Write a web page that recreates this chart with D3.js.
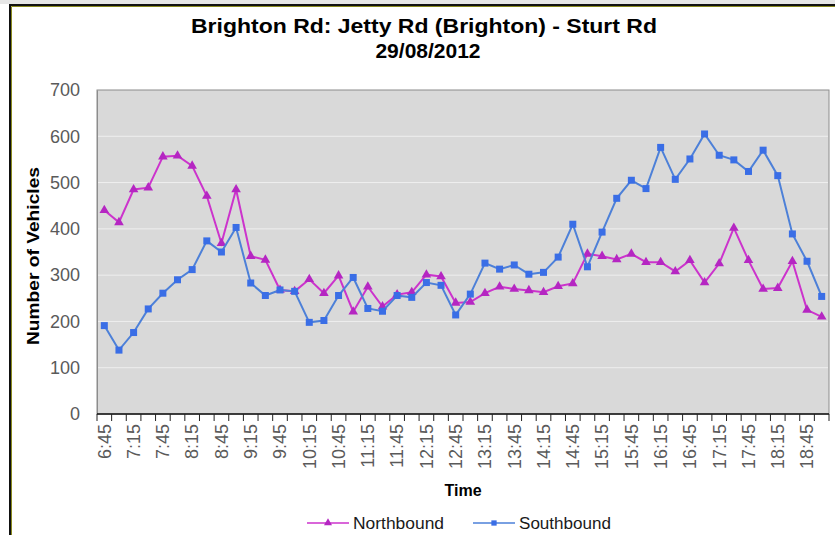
<!DOCTYPE html>
<html>
<head>
<meta charset="utf-8">
<script src="https://cdn.jsdelivr.net/npm/d3@7"></script>
<style>
  body { margin: 0; background: #fff; }
  text { font-family: "Liberation Sans", Arial, sans-serif; }
</style>
</head>
<body>
<div class="d3-container"></div>
<script>
const times = ["6:45","7:00","7:15","7:30","7:45","8:00","8:15","8:30","8:45","9:00",
  "9:15","9:30","9:45","10:00","10:15","10:30","10:45","11:00","11:15","11:30",
  "11:45","12:00","12:15","12:30","12:45","13:00","13:15","13:30","13:45","14:00",
  "14:15","14:30","14:45","15:00","15:15","15:30","15:45","16:00","16:15","16:30",
  "16:45","17:00","17:15","17:30","17:45","18:00","18:15","18:30","18:45","19:00"];

const northbound = [440,414,485,489,556,558,536,471,369,485,
  341,333,268,265,291,261,299,221,275,232,
  258,263,301,297,240,242,261,275,270,267,
  263,276,282,346,341,334,346,328,328,308,
  332,284,325,402,332,270,272,330,225,210];

const southbound = [191,138,176,227,261,290,312,374,350,403,
  283,256,268,265,198,202,256,295,228,222,
  256,252,284,278,214,259,326,313,322,302,
  306,339,410,318,393,466,505,487,576,507,
  551,605,559,549,524,570,515,389,330,254];

const yTicks = [0,100,200,300,400,500,600,700];

const width = 835;
const height = 535;
const margin = {top: 90, bottom: 122, left: 97, right: 6};

const svg = d3.select(".d3-container")
  .append("svg")
  .attr("width", width)
  .attr("height", height)
  .attr("viewBox", [0, 0, width, height]);

// frame
svg.append("rect").attr("x", 0).attr("y", 0).attr("width", width).attr("height", 4).attr("fill", "#e6e6e6");
svg.append("path").attr("d", `M10,${height} V5 H${width}`)
  .attr("fill", "none").attr("stroke", "#111").attr("stroke-width", 2);
svg.append("path").attr("d", `M11.5,${height} V6.5 H${width}`)
  .attr("fill", "none").attr("stroke", "#8a8a20").attr("stroke-width", 1);

const x = d3.scaleBand()
  .domain(times)
  .range([margin.left, width - margin.right]);

const y = d3.scaleLinear()
  .domain([0, 700])
  .range([height - margin.bottom + 1, margin.top]);

// plot area
svg.append("rect")
  .attr("x", margin.left).attr("y", y(700))
  .attr("width", x.range()[1] - margin.left)
  .attr("height", y(0) - y(700))
  .attr("fill", "#d9d9d9")
  .attr("stroke", "#8c8c8c");

svg.append("g")
  .selectAll("line")
  .data(yTicks.slice(1, -1))
  .join("line")
  .attr("x1", margin.left + 1).attr("x2", x.range()[1] - 1)
  .attr("y1", d => y(d)).attr("y2", d => y(d))
  .attr("stroke", "#efefef").attr("stroke-width", 1);

function yAxis(g) {
  g.attr("transform", `translate(${margin.left}, 0)`)
    .call(d3.axisLeft(y).tickValues(yTicks).tickSize(0).tickPadding(17))
    .call(g => g.select(".domain").attr("stroke", "#8c8c8c"))
    .selectAll("text")
    .attr("font-size", 18)
    .attr("fill", "#5a5a5a");
}

const boundaries = d3.range(times.length + 1).map(i => x.range()[0] + i * x.step());

function xAxis(g) {
  const y0 = y(0);
  g.append("line")
    .attr("x1", margin.left).attr("x2", x.range()[1])
    .attr("y1", y0).attr("y2", y0)
    .attr("stroke", "#111").attr("stroke-width", 1.5);
  g.selectAll(".tick")
    .data(boundaries)
    .join("line")
    .attr("class", "tick")
    .attr("x1", d => d).attr("x2", d => d)
    .attr("y1", y0).attr("y2", y0 + 7)
    .attr("stroke", "#222");
  g.selectAll(".lbl")
    .data(times.filter((d, i) => i % 2 === 0))
    .join("text")
    .attr("class", "lbl")
    .attr("transform", d => `translate(${x(d) + x.bandwidth() / 2},${y0 + 10}) rotate(-90)`)
    .attr("dy", "0.35em")
    .attr("text-anchor", "end")
    .attr("font-size", 18)
    .attr("fill", "#5a5a5a")
    .text(d => d);
}

svg.append("g").call(yAxis);
svg.append("g").call(xAxis);

const cx = d => x(d) + x.bandwidth() / 2;

const series = [
  {name: "Northbound", values: northbound, line: "#cc33cc", mark: "#b526c2", shape: d3.symbolTriangle},
  {name: "Southbound", values: southbound, line: "#4d80d8", mark: "#3a6ee6", shape: d3.symbolSquare}
];

const line = d3.line()
  .x((d, i) => cx(times[i]))
  .y(d => y(d));

series.forEach(s => {
  svg.append("path")
    .datum(s.values)
    .attr("fill", "none")
    .attr("stroke", s.line)
    .attr("stroke-width", 2)
    .attr("d", line);
  svg.append("g")
    .selectAll("path")
    .data(s.values)
    .join("path")
    .attr("transform", (d, i) => `translate(${cx(times[i])},${y(d)})`)
    .attr("d", d3.symbol().type(s.shape).size(s.shape === d3.symbolSquare ? 49 : 40))
    .attr("fill", s.mark);
});

// titles
svg.append("text")
  .attr("x", 424).attr("y", 33)
  .attr("text-anchor", "middle")
  .attr("font-size", 21).attr("font-weight", "bold")
  .attr("textLength", 466).attr("lengthAdjust", "spacingAndGlyphs")
  .text("Brighton Rd: Jetty Rd (Brighton) - Sturt Rd");
svg.append("text")
  .attr("x", 428).attr("y", 58)
  .attr("text-anchor", "middle")
  .attr("font-size", 21).attr("font-weight", "bold")
  .text("29/08/2012");

svg.append("text")
  .attr("transform", "translate(39,256) rotate(-90)")
  .attr("text-anchor", "middle")
  .attr("font-size", 16).attr("font-weight", "bold")
  .attr("textLength", 178).attr("lengthAdjust", "spacingAndGlyphs")
  .text("Number of Vehicles");

svg.append("text")
  .attr("x", 463).attr("y", 496)
  .attr("text-anchor", "middle")
  .attr("font-size", 16).attr("font-weight", "bold")
  .text("Time");

// legend
const legendX = [307, 473];
series.forEach((s, i) => {
  const g = svg.append("g").attr("transform", `translate(${legendX[i]},523)`);
  g.append("line").attr("x1", 0).attr("x2", 42).attr("stroke", s.line).attr("stroke-width", 1.5);
  g.append("path")
    .attr("transform", "translate(21,0)")
    .attr("d", d3.symbol().type(s.shape).size(28))
    .attr("fill", s.mark);
  g.append("text")
    .attr("x", 46).attr("dy", "0.35em")
    .attr("font-family", "DejaVu Sans")
    .attr("font-size", 16)
    .attr("fill", "#1a1a1a")
    .attr("textLength", s.name === "Northbound" ? 91 : 92)
    .attr("lengthAdjust", "spacingAndGlyphs")
    .text(s.name);
});
</script>
</body>
</html>
